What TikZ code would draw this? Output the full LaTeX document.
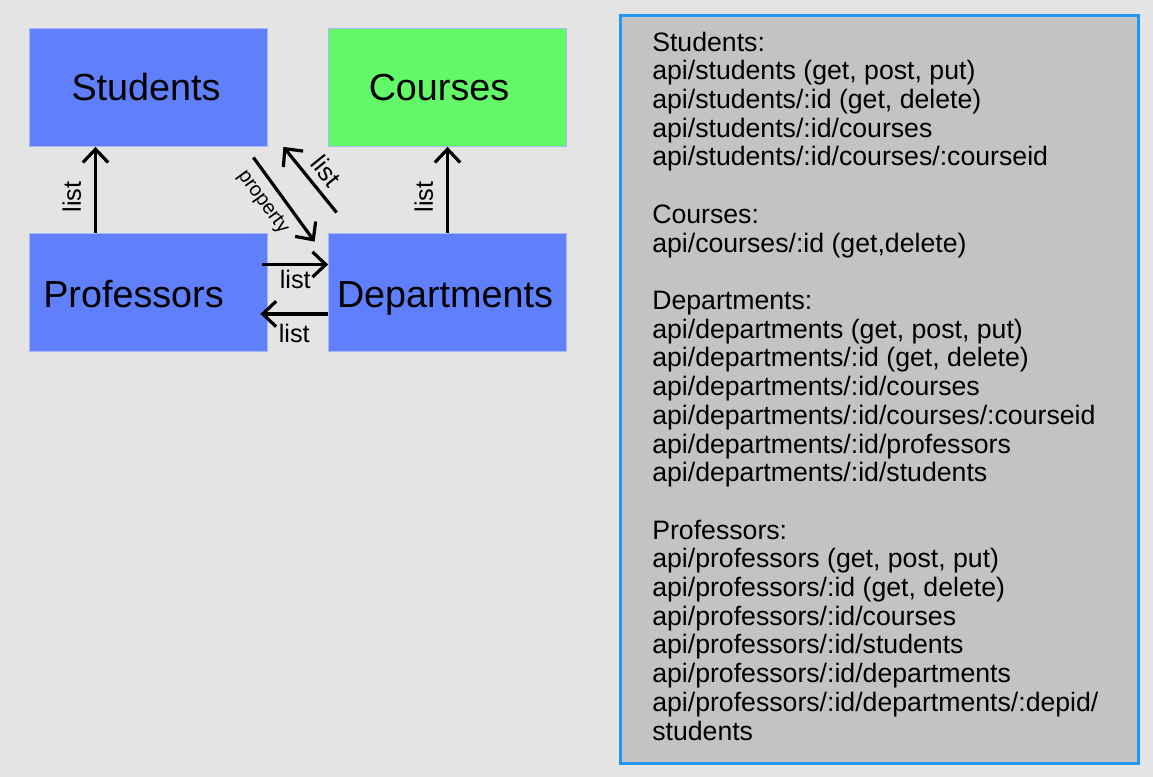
\documentclass[tikz,border=0pt]{standalone}
\usepackage{fontspec}
\setmainfont{Liberation Sans}
\usetikzlibrary{arrows.meta}
\definecolor{bg}{HTML}{E4E4E4}
\definecolor{bluebox}{HTML}{5F80FA}
\definecolor{greenbox}{HTML}{62F868}
\definecolor{boxedge}{HTML}{A8B8F6}
\definecolor{panelfill}{HTML}{C3C3C3}
\definecolor{paneledge}{HTML}{2196F3}
\begin{document}
\begin{tikzpicture}[x=0.75pt,y=-0.75pt,
  box/.style={draw=boxedge,line width=0.6pt,minimum width=178.5pt,minimum height=88.5pt,inner sep=0pt},
  boxtext/.style={anchor=base,inner sep=0pt,font=\fontsize{28.3}{34}\selectfont},
  arr/.style={line width=2.4pt,-{Straight Barb[length=10pt,width=19pt]}},
  lbl/.style={inner sep=1.5pt,font=\fontsize{19}{22}\selectfont},
  apitext/.style={anchor=base west,inner sep=0pt,font=\fontsize{20}{24}\selectfont}]
\fill[bg] (0,0) rectangle (1153,777);

% entities
\node[box,fill=bluebox] (stu) at (148.5,87.5) {};
\node[box,fill=greenbox] (cou) at (447.5,87.5) {};
\node[box,fill=bluebox] (pro) at (148.5,292.5) {};
\node[box,fill=bluebox] (dep) at (447.5,292.5) {};
\node[boxtext] (stutext) at (146,101) {Students};
\node[boxtext] (coutext) at (439,101) {Courses};
\node[boxtext] (protext) at (133.5,307) {Professors};
\node[boxtext] (deptext) at (445,307) {Departments};

% links
\draw[arr] ([xshift=-39.75pt]pro.north) -- node[lbl,sloped,above=8pt,pos=0.42] (l1) {list} ([xshift=-39.75pt]stu.south);
\draw[arr] (dep.north) -- node[lbl,sloped,above=8pt,pos=0.42] (l2) {list} (cou.south);
\draw[arr] ([xshift=-10.9pt,yshift=-7.9pt]stu.south east) -- node[lbl,sloped,below=5pt,pos=0.4,font=\fontsize{15}{18}\selectfont] (p1) {property} ([xshift=-10.1pt,yshift=-6.4pt]dep.north west);
\draw[arr] ([xshift=6.4pt,yshift=15.4pt]dep.north west) -- node[lbl,sloped,above=4pt,pos=0.46] (l3) {list} ([xshift=11.6pt]stu.south east);
\draw[arr] ([xshift=-4.1pt,yshift=21pt]pro.east) -- node[lbl,below=1.7pt] (l4) {list} ([yshift=21pt]dep.west);
\draw[arr] ([yshift=-16.1pt]dep.west) -- node[lbl,below=5pt] (l5) {list} ([xshift=-5.6pt,yshift=-16.1pt]pro.east);

% api list
\draw[fill=panelfill,draw=paneledge,line width=2.25pt] (620,16) rectangle (1138,763);
\foreach \apiline [count=\i] in {Students:,
    {api/students (get, post, put)},
    {api/students/:id (get, delete)},
    api/students/:id/courses,
    api/students/:id/courses/:courseid,
    {},
    Courses:,
    {api/courses/:id (get,delete)},
    {},
    Departments:,
    {api/departments (get, post, put)},
    {api/departments/:id (get, delete)},
    api/departments/:id/courses,
    api/departments/:id/courses/:courseid,
    api/departments/:id/professors,
    api/departments/:id/students,
    {},
    Professors:,
    {api/professors (get, post, put)},
    {api/professors/:id (get, delete)},
    api/professors/:id/courses,
    api/professors/:id/students,
    api/professors/:id/departments,
    api/professors/:id/departments/:depid/,
    students}
  \node[apitext] (api\i) at (652,{51.2+(\i-1)*28.7}) {\apiline};
\end{tikzpicture}
\end{document}
